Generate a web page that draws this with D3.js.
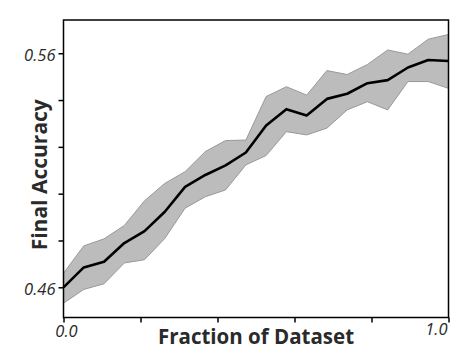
<!DOCTYPE html>
<html>
<head>
<meta charset="utf-8">
<script src="https://cdn.jsdelivr.net/npm/d3@7"></script>
<style>
  body { margin: 0; background: #fff; }
  text { font-family: "Open Sans", "DejaVu Sans", sans-serif; }
</style>
</head>
<body>
<div id="canvas"></div>
<script>
// ///////// DATA //////////

// fraction of dataset used (20 evenly spaced runs)
var fractions = d3.range(20).map(i => i / 19)

var meanAcc = [0.4600, 0.4685, 0.4709, 0.4789, 0.4840, 0.4923, 0.5029, 0.5080, 0.5121, 0.5176,
               0.5291, 0.5361, 0.5334, 0.5405, 0.5427, 0.5472, 0.5485, 0.5539, 0.5571, 0.5567]
var upperAcc = [0.4660, 0.4777, 0.4807, 0.4864, 0.4970, 0.5044, 0.5094, 0.5180, 0.5227, 0.5229,
                0.5415, 0.5457, 0.5421, 0.5526, 0.5509, 0.5552, 0.5614, 0.5596, 0.5660, 0.5680]
var lowerAcc = [0.4532, 0.4591, 0.4615, 0.4704, 0.4718, 0.4809, 0.4938, 0.4987, 0.5016, 0.5123,
                0.5163, 0.5265, 0.5251, 0.5280, 0.5358, 0.5393, 0.5358, 0.5479, 0.5479, 0.5450]

var xTicks = [0, 0.2, 0.4, 0.6, 0.8, 1.0]
var yTicks = [0.46, 0.48, 0.50, 0.52, 0.54, 0.56]
var yLabeled = [0.46, 0.56]

var points = fractions.map((f, i) => ({ f: f, mean: meanAcc[i], hi: upperAcc[i], lo: lowerAcc[i] }))

///////// GLOBAL VARS //////////

var W = 452, H = 350
var margin = { top: 20, right: 3.5, bottom: 32.5, left: 63.5 },
  width = W - margin.left - margin.right,
  height = H - margin.top - margin.bottom

var svg = d3.select("#canvas")
  .append("svg")
  .attr("width", W)
  .attr("height", H)

var g = svg.append("g")
  .attr("transform", `translate(${margin.left},${margin.top})`)

var x = d3.scaleLinear()
  .domain([0, 1])
  .range([0, width])

var y = d3.scaleLinear()
  .domain([0.4471, 0.5742])
  .range([height, 0])

// shaded band
var band = d3.area()
  .x(d => x(d.f))
  .y0(d => y(d.lo))
  .y1(d => y(d.hi))

g.append("path")
  .datum(points)
  .attr("d", band)
  .attr("fill", "#bcbcbc")
  .attr("stroke", "#999")
  .attr("stroke-width", 1)

// mean line
var line = d3.line()
  .x(d => x(d.f))
  .y(d => y(d.mean))

g.append("path")
  .datum(points)
  .attr("d", line)
  .attr("fill", "none")
  .attr("stroke", "#000")
  .attr("stroke-width", 2.6)
  .attr("stroke-linejoin", "round")

// frame
g.append("rect")
  .attr("x", 0)
  .attr("y", 0)
  .attr("width", width)
  .attr("height", height)
  .attr("fill", "none")
  .attr("stroke", "#000")
  .attr("stroke-width", 1.5)

// axes (ticks only, labels added below)
var yAxis = g.append("g")
  .call(d3.axisLeft(y).tickValues(yTicks).tickSize(5).tickPadding(3)
    .tickFormat(d => yLabeled.some(v => Math.abs(v - d) < 1e-9) ? d3.format(".2f")(d) : ""))
yAxis.select(".domain").remove()
yAxis.selectAll(".tick line").attr("stroke-width", 1.5)
yAxis.selectAll(".tick text")
  .attr("font-size", 16.5)
  .attr("font-style", "italic")
  .attr("font-family", "'Open Sans', sans-serif")
  .attr("fill", "#2a2a2a")
  .attr("dy", "0.45em")

var xAxis = g.append("g")
  .attr("transform", `translate(0,${height})`)
  .call(d3.axisBottom(x).tickValues(xTicks).tickSize(5).tickFormat(""))
xAxis.select(".domain").remove()
xAxis.selectAll(".tick line").attr("stroke-width", 1.5)

// end labels on x axis
g.append("text")
  .attr("x", x(0) + 3)
  .attr("y", height + 19)
  .attr("text-anchor", "middle")
  .attr("font-size", 16.5)
  .attr("font-style", "italic")
  .attr("fill", "#2a2a2a")
  .text(d3.format(".1f")(xTicks[0]))

g.append("text")
  .attr("x", x(1) - 1)
  .attr("y", height + 17)
  .attr("text-anchor", "end")
  .attr("font-size", 16.5)
  .attr("font-style", "italic")
  .attr("fill", "#2a2a2a")
  .text(d3.format(".1f")(xTicks[xTicks.length - 1]))

// axis titles
svg.append("text")
  .attr("x", margin.left + width / 2)
  .attr("y", H - 6)
  .attr("text-anchor", "middle")
  .attr("font-size", 20.5)
  .attr("font-weight", "bold")
  .attr("fill", "#2a2a2a")
  .text("Fraction of Dataset")

svg.append("text")
  .attr("transform", `translate(47,${margin.top + height / 2 + 6}) rotate(-90)`)
  .attr("text-anchor", "middle")
  .attr("font-size", 21)
  .attr("font-weight", "bold")
  .attr("fill", "#2a2a2a")
  .text("Final Accuracy")
</script>
</body>
</html>
